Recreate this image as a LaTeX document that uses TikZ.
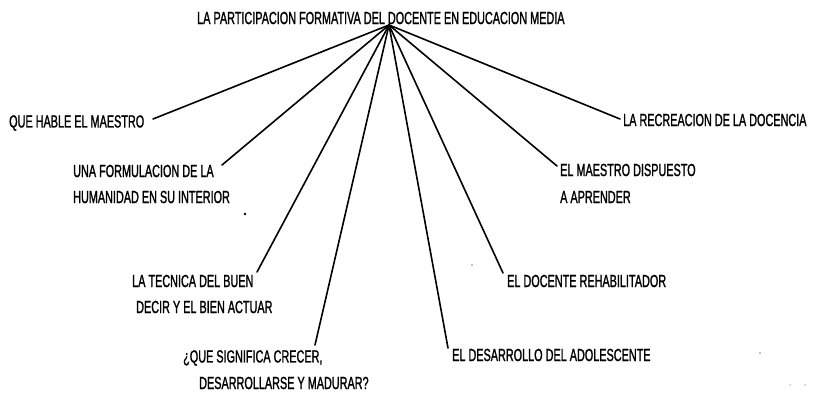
\documentclass[tikz,border=0pt]{standalone}
\usepackage{fontspec}
\setmainfont{Liberation Sans}[FakeStretch=0.62,FakeBold=1.2]
\begin{document}
\begin{tikzpicture}[x=1pt,y=-1pt,
  lbl/.style={anchor=west,inner sep=0pt,font=\fontsize{17.5}{20}\selectfont},
  conn/.style={line width=1.6pt,line cap=round}]
\useasboundingbox[fill=white] (0,0) rectangle (813,392);
% title and hub
\node[lbl] (title) at (197,18) {LA PARTICIPACION FORMATIVA DEL DOCENTE EN EDUCACION MEDIA};
\coordinate (hub) at (389,25);
% left branches
\node[lbl] (q)  at (9,123)   {QUE HABLE EL MAESTRO};
\node[lbl] (u1) at (73,171)  {UNA FORMULACION DE LA};
\node[lbl] (u2) at (73,197)  {HUMANIDAD EN SU INTERIOR};
\node[lbl] (t1) at (132,281) {LA TECNICA DEL BUEN};
\node[lbl] (t2) at (136,307) {DECIR Y EL BIEN ACTUAR};
\node[lbl] (c1) at (183,358) {¿QUE SIGNIFICA CRECER,};
\node[lbl] (c2) at (199,383) {DESARROLLARSE Y MADURAR?};
% right branches
\node[lbl] (d)  at (452,355) {EL DESARROLLO DEL ADOLESCENTE};
\node[lbl] (r)  at (507,281) {EL DOCENTE REHABILITADOR};
\node[lbl] (m1) at (560,170) {EL MAESTRO DISPUESTO};
\node[lbl] (m2) at (560,197) {A APRENDER};
\node[lbl] (rc) at (623,120) {LA RECREACION DE LA DOCENCIA};
% connector ends
\coordinate (eq) at (153,119);
\coordinate (eu) at (222,165);
\coordinate (et) at (257,272);
\coordinate (ec) at (315,345);
\coordinate (ed) at (448,348);
\coordinate (er) at (503,273);
\coordinate (em) at (557,166);
\coordinate (erc) at (620,119);
\foreach \e in {eq,eu,et,ec,ed,er,em,erc} \draw[conn] (hub) -- (\e);
% specks
\fill (245,214) circle (1.3);
\fill (472,265) circle (0.6);
\fill (760,353) circle (0.6);
\fill (790,385) circle (0.5);
\fill (805,385) circle (0.5);
\end{tikzpicture}
\end{document}
